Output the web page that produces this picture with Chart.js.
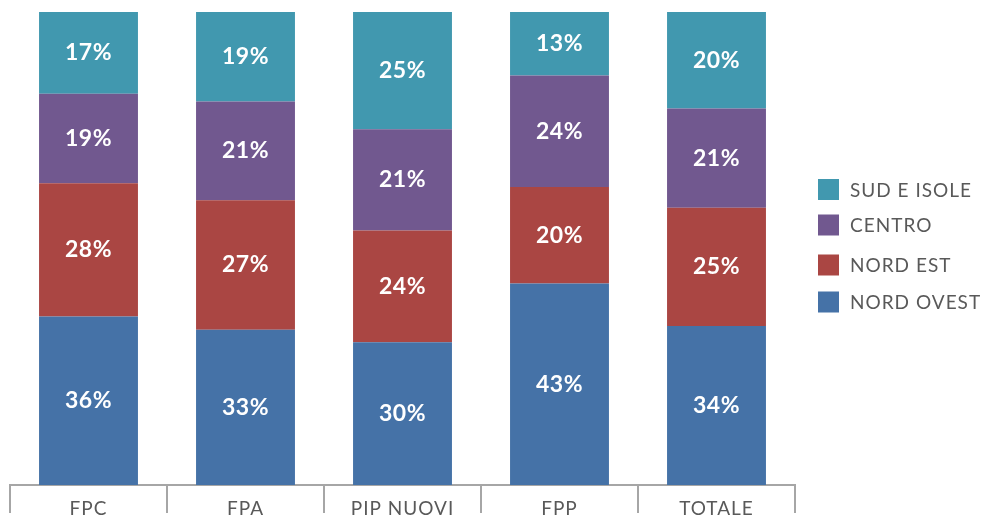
<!DOCTYPE html>
<html><head><meta charset="utf-8">
<script src="https://cdn.jsdelivr.net/npm/chart.js@4"></script>
<style>html,body{margin:0;padding:0;background:#fff;}canvas{display:block;}</style>
</head><body>
<canvas id="c" width="986" height="517"></canvas>
<script>
const categories = ['FPC', 'FPA', 'PIP NUOVI', 'FPP', 'TOTALE'];
const seriesNames = ['NORD OVEST', 'NORD EST', 'CENTRO', 'SUD E ISOLE'];
const nordOvest = [35.6, 32.8, 30.2, 42.6, 33.6];
const nordEst = [28.2, 27.4, 23.6, 20.4, 25.0];
const centro = [18.9, 20.9, 21.4, 23.6, 21.0];
const sudIsole = [17.3, 18.9, 24.8, 13.4, 20.4];
const seriesColors = ['#4572A7', '#AA4643', '#71588F', '#4198AF'];

const FONT = 'Lato, "Open Sans", sans-serif';

const spacing = {
  id: 'spacing',
  beforeDraw(chart) { chart.ctx.letterSpacing = '1px'; }
};

const segLabels = {
  id: 'segLabels',
  afterDatasetsDraw(chart) {
    const ctx = chart.ctx;
    ctx.save();
    ctx.letterSpacing = '0.5px';
    ctx.fillStyle = '#ffffff';
    ctx.font = 'bold 23px ' + FONT;
    ctx.textAlign = 'center';
    ctx.textBaseline = 'middle';
    chart.data.datasets.forEach((ds, i) => {
      const meta = chart.getDatasetMeta(i);
      meta.data.forEach((el, j) => {
        const y = (el.y + el.base) / 2;
        ctx.fillText(Math.round(ds.data[j]) + '%', el.x, y);
      });
    });
    ctx.restore();
  }
};

const legendYs = [302, 265, 225, 189.5];
const customLegend = {
  id: 'customLegend',
  afterDraw(chart) {
    const ctx = chart.ctx;
    ctx.save();
    ctx.letterSpacing = '1px';
    ctx.font = '19px ' + FONT;
    ctx.textBaseline = 'middle';
    ctx.textAlign = 'left';
    chart.data.datasets.forEach((ds, i) => {
      const cy = legendYs[i];
      ctx.fillStyle = ds.backgroundColor;
      ctx.fillRect(818, cy - 10.5, 21, 21);
      ctx.fillStyle = '#595959';
      ctx.fillText(ds.label, 850, cy + 1);
    });
    ctx.restore();
  }
};

const values = [nordOvest, nordEst, centro, sudIsole];
new Chart(document.getElementById('c'), {
  type: 'bar',
  data: {
    labels: categories,
    datasets: seriesNames.map((n, i) => ({
      label: n,
      data: values[i],
      backgroundColor: seriesColors[i],
      borderWidth: 0,
      barPercentage: 0.63,
      categoryPercentage: 1
    }))
  },
  options: {
    responsive: false,
    animation: false,
    devicePixelRatio: 1,
    layout: { padding: { left: 10, right: 191, top: 12, bottom: 0 } },
    plugins: { legend: { display: false }, tooltip: { enabled: false } },
    scales: {
      x: {
        stacked: true,
        offset: true,
        grid: { offset: true, drawOnChartArea: false, drawTicks: true, tickLength: 28, color: '#A6A6A6', lineWidth: 2 },
        border: { color: '#A6A6A6', width: 2 },
        ticks: { color: '#595959', font: { family: FONT, size: 19 }, padding: -16, maxRotation: 0 },
        afterFit(s) { s.height = 32; }
      },
      y: { stacked: true, display: false, min: 0, max: 100 }
    }
  },
  plugins: [spacing, segLabels, customLegend]
});
</script>
</body></html>
